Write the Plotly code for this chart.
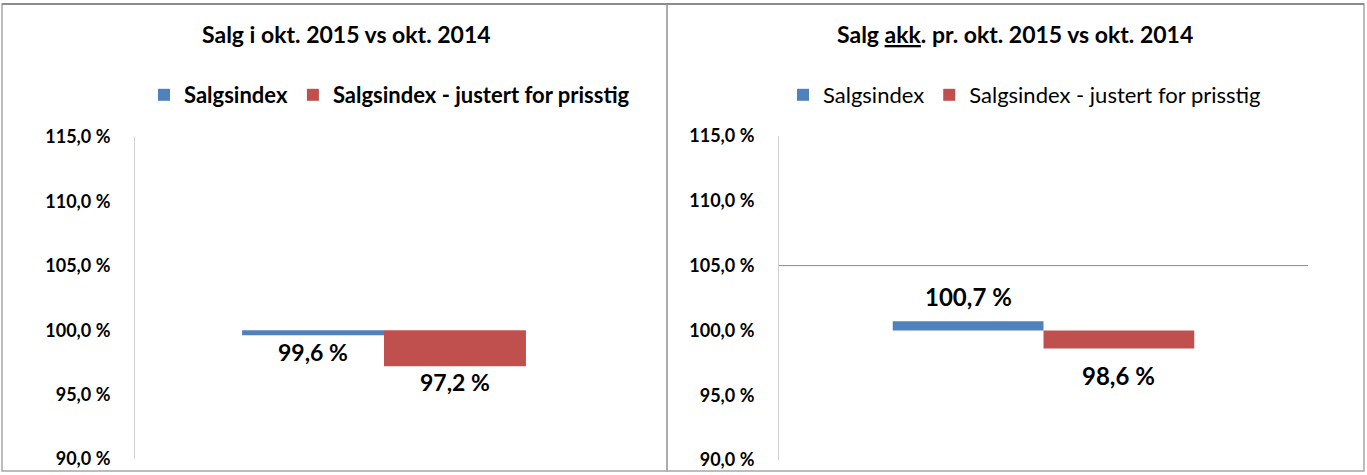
import plotly.graph_objects as go

# ---- data ----
categories = [""]
series_names = ["Salgsindex", "Salgsindex - justert for prisstig"]
left_values = [99.6, 97.2]
right_values = [100.7, 98.6]
left_labels = ["99,6 %", "97,2 %"]
right_labels = ["100,7 %", "98,6 %"]
base_value = 100.0
tick_vals = [90, 95, 100, 105, 110, 115]
tick_text = ["90,0 %", "95,0 %", "100,0 %", "105,0 %", "110,0 %", "115,0 %"]
titles = ["Salg i okt. 2015 vs okt. 2014",
          "Salg <u>akk</u>. pr. okt. 2015 vs okt. 2014"]
gridline_right = 105

colors = ["#4F81BD", "#C0504D"]
FONT = "Lato, Liberation Sans, Arial, sans-serif"
W, H = 1367, 475
BARGAP = 0.43

fig = go.Figure()

for i, name in enumerate(series_names):
    fig.add_trace(go.Bar(
        x=categories, y=[left_values[i] - base_value], base=[base_value],
        name=name, marker=dict(color=colors[i], line=dict(width=0)),
        xaxis="x", yaxis="y", legend="legend", hoverinfo="skip"))
for i, name in enumerate(series_names):
    fig.add_trace(go.Bar(
        x=categories, y=[right_values[i] - base_value], base=[base_value],
        name=name, marker=dict(color=colors[i], line=dict(width=0)),
        xaxis="x2", yaxis="y2", legend="legend2", hoverinfo="skip"))

def px(x):
    return x / W

def py(y):
    return 1 - y / H

yax = dict(range=[90, 115], tickvals=tick_vals, ticktext=tick_text,
           showgrid=False, zeroline=False, showline=True, linecolor="#d0d0d0",
           linewidth=1, ticks="", ticklabelstandoff=20, automargin=False,
           tickfont=dict(family=FONT, size=18, color="#000", weight="bold"),
           fixedrange=True)
xax = dict(showgrid=False, zeroline=False, showline=False, showticklabels=False,
           range=[-0.5, 0.5], fixedrange=True, automargin=False)

fig.update_layout(
    width=W, height=H, autosize=False,
    margin=dict(l=0, r=0, t=0, b=0, pad=0, autoexpand=False),
    paper_bgcolor="white", plot_bgcolor="white",
    barmode="group", bargap=BARGAP, bargroupgap=0,
    showlegend=True,
    xaxis=dict(domain=[px(135), px(633)], anchor="y", **xax),
    yaxis=dict(domain=[py(459), py(137)], anchor="x", **yax),
    xaxis2=dict(domain=[px(779), px(1308)], anchor="y2", **xax),
    yaxis2=dict(domain=[py(460), py(136)], anchor="x2", **yax),
    legend=dict(orientation="h", x=px(144), y=py(95), xanchor="left", yanchor="middle",
                font=dict(family=FONT, size=22, color="#000", weight="bold"),
                bgcolor="rgba(0,0,0,0)", traceorder="normal"),
    legend2=dict(orientation="h", x=px(783), y=py(95), xanchor="left", yanchor="middle",
                 font=dict(family=FONT, size=22, color="#000"),
                 bgcolor="rgba(0,0,0,0)", traceorder="normal"),
)

# panel borders
fig.add_shape(type="rect", xref="paper", yref="paper",
              x0=px(2), x1=px(667), y0=py(471), y1=py(4),
              line=dict(color="#a6a6a6", width=1.5), layer="below")
fig.add_shape(type="rect", xref="paper", yref="paper",
              x0=px(667), x1=px(1364), y0=py(471), y1=py(4),
              line=dict(color="#a6a6a6", width=1.5), layer="below")
fig.add_shape(type="line", xref="paper", yref="paper",
              x0=px(2), x1=px(1364), y0=py(4), y1=py(4),
              line=dict(color="#8c8c8c", width=2))
# gridline on right chart
fig.add_shape(type="line", xref="x2 domain", yref="y2",
              x0=0, x1=1, y0=gridline_right, y1=gridline_right,
              line=dict(color="#8c8c8c", width=1))

# titles
fig.add_annotation(text="<b>" + titles[0] + "</b>", xref="paper", yref="paper",
                   x=px(346), y=py(34), showarrow=False, xanchor="center", yanchor="middle",
                   font=dict(family=FONT, size=23, color="#000"))
fig.add_annotation(text="<b>" + titles[1] + "</b>", xref="paper", yref="paper",
                   x=px(1015), y=py(34), showarrow=False, xanchor="center", yanchor="middle",
                   font=dict(family=FONT, size=23, color="#000"))

# value labels
offset = (1 - BARGAP) / 4
def add_labels(values, labels, xref, yref, gaps, size):
    for i, (v, lab) in enumerate(zip(values, labels)):
        xpos = -offset if i == 0 else offset
        above = v >= base_value
        fig.add_annotation(text="<b>" + lab + "</b>", xref=xref, yref=yref,
                           x=xpos, y=v, showarrow=False, xanchor="center",
                           yanchor="bottom" if above else "top",
                           yshift=gaps[i] if above else -gaps[i],
                           font=dict(family=FONT, size=size, color="#000"))

add_labels(left_values, left_labels, "x", "y", [1, 0], 23)
add_labels(right_values, right_labels, "x2", "y2", [8, 10], 24)

fig.write_html("out.html", config={"displayModeBar": False},
               post_script="document.body.style.margin='0';")
